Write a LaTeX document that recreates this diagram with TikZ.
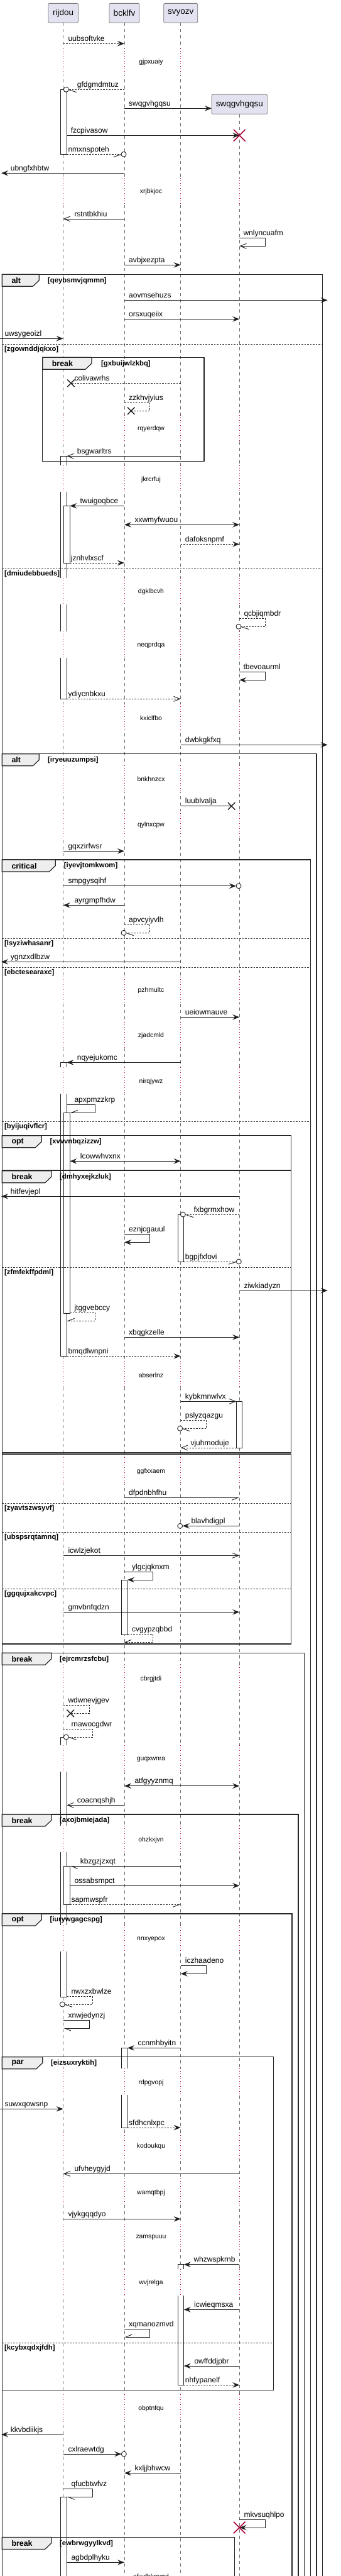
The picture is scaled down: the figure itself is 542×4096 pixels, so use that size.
\documentclass[tikz,border=0pt]{standalone}
\usepackage{fontspec}
\setmainfont{Liberation Sans}
\usetikzlibrary{arrows.meta}
\definecolor{partfill}{HTML}{E2E2F0}
\definecolor{crim}{HTML}{A80036}
\definecolor{tabfill}{HTML}{EEEEEE}
\definecolor{lifegray}{HTML}{6E6E6E}
\definecolor{partdraw}{HTML}{7A7A7A}
\tikzset{
 part/.style={draw=partdraw, fill=partfill, line width=0.8pt, rounded corners=2pt, inner sep=0pt, font=\fontsize{13.5}{16}\selectfont},
 life/.style={draw=lifegray, line width=0.7pt, dash pattern=on 5pt off 5pt},
 dly/.style={draw=crim, line width=0.8pt, dash pattern=on 1pt off 3pt},
 dlbl/.style={font=\fontsize{10.4}{12}\selectfont, inner sep=0pt},
 lbl/.style={font=\fontsize{12}{14}\selectfont, inner sep=0pt, anchor=base west},
 sline/.style={draw=black!88, line width=0.9pt},
 dline/.style={sline, dash pattern=on 2.5pt off 2pt},
 hF/.style={-{Stealth[length=11pt,width=8.5pt,inset=4pt]}},
 hFF/.style={{Stealth[length=11pt,width=8.5pt,inset=4pt]}-{Stealth[length=11pt,width=8.5pt,inset=4pt]}},
 hO/.style={-{Straight Barb[length=10pt,width=8pt]}},
 hHl/.style={-{Straight Barb[harpoon,length=10pt,width=8pt]}},
 hHr/.style={-{Straight Barb[harpoon,swap,length=10pt,width=8pt]}},
 actst/.style={draw=black!88, fill=white, line width=0.9pt},
 frameline/.style={draw=black!85, line width=1.5pt},
 tabst/.style={draw=black!85, fill=tabfill, line width=1.2pt},
 tablbl/.style={font=\fontsize{12.4}{14}\selectfont\bfseries, inner sep=0pt, anchor=west},
 condlbl/.style={font=\fontsize{11.3}{13}\selectfont\bfseries, inner sep=0pt, anchor=west},
 sepline/.style={draw=black!85, line width=0.8pt, dash pattern=on 2.5pt off 2pt},
 xred/.style={draw=crim, line width=1.6pt},
 xblk/.style={draw=black!88, line width=1.4pt},
 circ/.style={draw=black!88, line width=0.9pt, fill=white, circle, minimum size=8pt, inner sep=0pt},
}
% message: name, x1, x2, y, style, label x, text
\newcommand{\msgx}[7]{%
 \coordinate (#1s) at (#2,#4);
 \coordinate (#1e) at (#3,#4);
 \draw[#5] (#1s) -- (#1e);
 \node[lbl] (#1t) at (#6,#4-4) {#7};}
% self message: name, x0, xr, y1, y2, xend, style, label x, text
\newcommand{\selfm}[9]{%
 \coordinate (#1a) at (#2,#4);
 \coordinate (#1b) at (#3,#4);
 \coordinate (#1c) at (#3,#5);
 \coordinate (#1d) at (#6,#5);
 \draw[#7] (#1a) -- (#1b) -- (#1c) -- (#1d);
 \node[lbl] (#1t) at (#8,#4-4) {#9};}
% activation: name, x left, y1, y2
\newcommand{\actb}[4]{%
 \coordinate (#1t) at (#2,#3);
 \coordinate (#1b) at (#2+9.6,#4);
 \draw[actst] (#1t) rectangle (#1b);}
% delay: name, y, lifeline xs, text
\newcommand{\delayd}[4]{%
 \foreach \lx in {#3} {
  \fill[white] (\lx-5,#2-22) rectangle (\lx+12,#2+20);
  \draw[dly] (\lx,#2-22) -- (\lx,#2+20);
 }
 \node[dlbl] (#1) at (240.5,#2) {#4};}
% frame: name, x0, xr, top, bottom, tab right, label, cond x, cond
\newcommand{\fram}[9]{%
 \coordinate (#1nw) at (#2,#4);
 \coordinate (#1se) at (#3,#5);
 \draw[frameline] (#1nw) rectangle (#1se);
 \filldraw[tabst] (#1nw) -- (#6,#4) -- (#6,#4+9.5) -- (#6-10,#4+19) -- (#2,#4+19) -- cycle;
 \node[tablbl] (#1l) at (#2+15,#4+9.7) {#7};
 \node[condlbl] (#1c) at (#8,#4+10) {#9};}
% separator: name, right, y, text
\newcommand{\fsep}[4]{%
 \coordinate (#1a) at (3.3,#3);
 \coordinate (#1b) at (#2,#3);
 \draw[sepline] (#1a) -- (#1b);
 \node[condlbl] (#1t) at (7,#3+8.5) {#4};}
% cross: name, x, y, half size, style
\newcommand{\xmk}[5]{%
 \coordinate (#1) at (#2,#3);
 \draw[#5] (#2-#4,#3-#4) -- (#2+#4,#3+#4) (#2-#4,#3+#4) -- (#2+#4,#3-#4);}
\newcommand{\circm}[3]{\node[circ] (#1) at (#2,#3) {};}

\begin{document}
\begin{tikzpicture}[x=1pt,y=-1pt]
\fill[white] (0,0) rectangle (542,4096);
\useasboundingbox (0,0) rectangle (542,4096);

% participants
\node[part, minimum width=47.4pt, minimum height=30.7pt] (pR) at (100.7,20.7) {rijdou};
\node[part, minimum width=48pt, minimum height=30.7pt] (pB) at (198,20.7) {bcklfv};
\node[part, minimum width=54pt, minimum height=30.7pt] (pS) at (287.7,20.7) {svyozv};
\node[part, minimum width=88.7pt, minimum height=31pt] (pW) at (381.3,165.8) {swqgvhgqsu};

% lifelines
\coordinate (eR) at (100.7,4120);
\coordinate (eB) at (198,4120);
\coordinate (eS) at (287.7,4120);
\coordinate (eW) at (381.3,4120);
\draw[life] (pR.south) -- (eR);
\draw[life] (pB.south) -- (eB);
\draw[life] (pS.south) -- (eS);
\draw[life] (pW.south) -- (eW);

% activations
\actb{a1}{96.7}{142.3}{245.3}
\actb{a2}{96.7}{725.3}{1111.3}
\actb{a3}{101.7}{804.3}{895}
\actb{a4}{96.7}{1689.3}{2156.3}
\actb{a5}{101.7}{1769.3}{2088}
\actb{a6}{283}{1931}{2006}
\actb{a7}{376.3}{2228.3}{2302}
\actb{a8}{193.3}{2512}{2599.3}
\actb{a9}{96.7}{2762}{3175}
\actb{a10}{101.7}{2967.3}{3028.3}
\actb{a11}{193.3}{3256.3}{3383}
\actb{a12}{283}{3600.7}{3792.3}
\actb{a13}{96.7}{3970.3}{4120}

% delays
\delayd{d1}{99.3}{100.7,198,287.7}{gjpxuaiy}
\delayd{d2}{305.3}{100.7,198,287.7,381.3}{xrjbkjoc}
\delayd{d3}{682}{100.7,198,287.7,381.3}{rqyerdqw}
\delayd{d4}{762.3}{100.7,198,287.7,381.3}{jkrcrfuj}
\delayd{d5}{941}{100.7,198,287.7,381.3}{dgklbcvh}
\delayd{d6}{1026}{100.7,198,287.7,381.3}{neqprdqa}
\delayd{d7}{1141.3}{100.7,198,287.7,381.3}{kxiclfbo}
\delayd{d8}{1239}{100.7,198,287.7,381.3}{bnkhnzcx}
\delayd{d9}{1311.3}{100.7,198,287.7,381.3}{qylnxcpw}
\delayd{d10}{1575}{100.7,198,287.7,381.3}{pzhmultc}
\delayd{d11}{1646.7}{100.7,198,287.7,381.3}{zjadcmld}
\delayd{d12}{1719.3}{100.7,198,287.7,381.3}{nirqjywz}
\delayd{d13}{2186.3}{100.7,198,287.7,381.3}{abserlnz}
\delayd{d14}{2339.3}{100.7,198,287.7,381.3}{ggfxxaem}
\delayd{d15}{2669.3}{100.7,198,287.7,381.3}{cbrgjtdi}
\delayd{d16}{2797.3}{100.7,198,287.7,381.3}{guqxwnra}
\delayd{d17}{2925.3}{100.7,198,287.7,381.3}{ohzkxjvn}
\delayd{d18}{3083.3}{100.7,198,287.7,381.3}{nnxyepox}
\delayd{d19}{3311.3}{100.7,198,287.7,381.3}{rdpgvopj}
\delayd{d20}{3413}{100.7,198,287.7,381.3}{kodoukqu}
\delayd{d21}{3486.3}{100.7,198,287.7,381.3}{wamqtbpj}
\delayd{d22}{3558}{100.7,198,287.7,381.3}{zamspuuu}
\delayd{d23}{3630}{100.7,198,287.7,381.3}{wvjrelga}
\delayd{d24}{3829.3}{100.7,198,287.7,381.3}{obptnfqu}
\node[dlbl] (d25) at (240.5,4098) {ofwdbkmqrd};

% frames
\fram{f1}{3.3}{513.7}{436.3}{4120}{62.3}{alt}{76}{[qeybsmvjqmmn]}
\fsep{s1}{513.7}{547.3}{[zgownddjqkxo]}
\fsep{s2}{513.7}{904}{[dmiudebbueds]}
\fram{f2}{67.7}{325}{568.3}{733.3}{146}{break}{161}{[gxbuijwlzkbq]}
\fram{f3}{3.3}{504}{1198.7}{4120}{62.3}{alt}{76}{[iryeuuzumpsi]}
\fram{f4}{3.3}{494.3}{1367}{4120}{88.3}{critical}{101.7}{[iyevjtomkwom]}
\fsep{s3}{494.3}{1492.3}{[lsyziwhasanr]}
\fsep{s4}{494.3}{1538.3}{[ebctesearaxc]}
\fsep{s5}{494.3}{1783}{[byijuqivflcr]}
\fram{f5}{3.3}{463.3}{1805.7}{1860.3}{66.3}{opt}{79.3}{[xvvvnbqzizzw]}
\fram{f6}{3.3}{463.3}{1861.7}{2309.3}{81.7}{break}{95}{[dmhyxejkzluk]}
\fsep{s6}{463.3}{2015}{[zfmfekffpdml]}
\coordinate (f7nw) at (3.3,2311.8);
\coordinate (f7se) at (463.3,2614);
\draw[frameline] (f7nw) rectangle (f7se);
\fsep{s7}{463.3}{2390.3}{[zyavtszwsyvf]}
\fsep{s8}{463.3}{2436.3}{[ubspsrqtamnq]}
\fsep{s9}{463.3}{2526.3}{[ggqujxakcvpc]}
\fram{f8}{3.3}{484.3}{2628.3}{4120}{81.7}{break}{95}{[ejrcmrzsfcbu]}
\fram{f9}{3.3}{475}{2885}{4120}{81.7}{break}{95}{[axojbmiejada]}
\fram{f10}{3.3}{465}{3043}{4120}{66.3}{opt}{79.3}{[iurywgagcspg]}
\fram{f11}{3.3}{435.3}{3270.7}{3800.3}{67.7}{par}{81}{[eizsuxryktih]}
\fsep{s10}{435.3}{3725}{[kcybxqdxjfdh]}
\fram{f12}{3.3}{373.3}{4034.3}{4120}{81.7}{break}{95}{[ewbrwgyylkvd]}

% messages
\msgx{m1}{100.7}{198}{69.3}{dline,hF}{108.3}{uubsoftvke}
\msgx{m2}{198}{109.3}{142.3}{dline}{122.7}{gfdgmdmtuz}
\circm{c2}{105.3}{142.3}
\draw[sline] (109.8,142.8) -- (121.7,146.6);
\msgx{m3}{198}{337}{172.3}{sline,hF}{205}{swqgvhgqsu}
\msgx{m4}{106.3}{381.3}{215.3}{sline,hF}{112.7}{fzcpivasow}
\xmk{x4}{381.3}{215.3}{9.3}{xred}
\msgx{m5}{106.3}{193}{245.3}{dline}{108.3}{nmxnspoteh}
\circm{c5}{197}{245.3}
\draw[sline] (192.5,245.8) -- (180.6,249.6);
\msgx{m6}{198}{2}{275.3}{sline,hF}{16.7}{ubngfxhbtw}
\msgx{m7}{198}{100.7}{348}{sline,hO}{118.3}{rstntbkhiu}
\selfm{m8}{381.3}{422}{378.3}{391.3}{381.3}{sline,hO}{387.3}{wnlyncuafm}
\msgx{m9}{198}{287.7}{421.3}{sline,hF}{205}{avbjxezpta}
\msgx{m10}{198}{521.7}{477.3}{sline,hF}{205}{aovmsehuzs}
\msgx{m11}{198}{381.3}{507.3}{sline,hF}{205}{orsxuqeiix}
\msgx{m12}{0}{100.7}{538.3}{sline,hF}{7.3}{uwsygeoizl}
\msgx{m13}{287.7}{113}{609.3}{dline}{118.3}{colivawrhs}
\xmk{x13}{113}{609.3}{5.7}{xblk}
\selfm{m14}{198}{238.7}{640.3}{653.3}{208.7}{dline}{205}{zzkhvjyius}
\xmk{x14}{208.7}{653.3}{5.7}{xblk}
\msgx{m15}{287.7}{106.3}{725.3}{sline,hO}{122.7}{bsgwarltrs}
\msgx{m16}{198}{111.3}{804.3}{sline,hF}{127.3}{twuigoqbce}
\msgx{m17}{198}{381.3}{834.3}{sline,hFF}{214.3}{xxwmyfwuou}
\msgx{m18}{287.7}{381.3}{865.3}{dline,hF}{294.7}{dafoksnpmf}
\msgx{m19}{111.3}{198}{895}{dline,hF}{112.7}{jznhvlxscf}
\selfm{m20}{381.3}{422}{983.3}{996.3}{384.3}{dline}{388.3}{qcbjiqmbdr}
\circm{c20}{380}{996.3}
\draw[sline] (384.5,996.8) -- (396,1000.5);
\selfm{m21}{381.3}{422}{1068.3}{1081.3}{381.3}{sline,hF}{387.3}{tbevoaurml}
\msgx{m22}{106.3}{287.7}{1111.3}{dline,hO}{108.3}{ydiycnbkxu}
\msgx{m23}{287.7}{521.7}{1184.3}{sline,hF}{294.7}{dwbkgkfxq}
\msgx{m24}{287.7}{368.7}{1281.7}{sline}{294.7}{luublvalja}
\xmk{x24}{368.7}{1281.7}{5.7}{xblk}
\msgx{m25}{100.7}{198}{1353.3}{sline,hF}{108.3}{gqxzirfwsr}
\msgx{m26}{100.7}{376}{1408.7}{sline,hF}{108.3}{smpgysqihf}
\circm{c26}{380}{1408.7}
\msgx{m27}{198}{100.7}{1439.3}{sline,hF}{118.3}{ayrgmpfhdw}
\selfm{m28}{198}{238.7}{1470.3}{1483.3}{201}{dline}{205}{apvcyiyvlh}
\circm{c28}{197}{1483.3}
\draw[sline] (201.5,1483.8) -- (212.7,1487.5);
\msgx{m29}{287.7}{2}{1529.3}{sline,hF}{16.7}{ygnzxdlbzw}
\msgx{m30}{287.7}{381.3}{1617.3}{sline,hF}{294.7}{ueiowmauve}
\msgx{m31}{287.7}{106.3}{1689.3}{sline,hF}{122.7}{nqyejukomc}
\selfm{m32}{106.3}{151.7}{1756.7}{1769.3}{111.3}{sline,hHr}{118.3}{apxpmzzkrp}
\msgx{m33}{111.3}{287.7}{1846.3}{sline,hFF}{127.7}{lcowwhvxnx}
\msgx{m34}{381.3}{2}{1902.3}{sline,hF}{16.7}{hitfevjepl}
\msgx{m35}{381.3}{295.3}{1931}{dline}{308.3}{fxbgrmxhow}
\circm{c35}{291.3}{1931}
\draw[sline] (295.8,1931.5) -- (308.3,1935.7);
\selfm{m36}{198}{238.7}{1962.3}{1975.3}{198}{sline,hF}{205}{eznjcgauul}
\msgx{m37}{292.7}{376.3}{2006}{dline}{294.7}{bgpjfxfovi}
\circm{c37}{380.3}{2006}
\draw[sline] (375.8,2006.5) -- (364,2010.2);
\msgx{m38}{381.3}{521.7}{2052}{sline,hF}{388.3}{ziwkiadyzn}
\selfm{m39}{111.3}{151.7}{2087.3}{2100.3}{106.3}{dline,hHr}{118.3}{jtggvebccy}
\msgx{m40}{198}{381.3}{2126.3}{sline,hF}{205}{xbqgkzelle}
\msgx{m41}{106.3}{287.7}{2156.3}{dline,hF}{108.3}{bmqdlwnpni}
\msgx{m42}{287.7}{376.3}{2228.3}{sline,hO}{294.7}{kybkmnwlvx}
\selfm{m43}{287.7}{328.7}{2258.7}{2271.3}{290.7}{dline}{294.7}{pslyzqazgu}
\circm{c43}{286.7}{2271.3}
\draw[sline] (291.2,2271.8) -- (302,2275.5);
\msgx{m44}{376.3}{287.7}{2302}{dline,hO}{303.3}{vjuhmoduje}
\msgx{m45}{198}{381.3}{2381.3}{sline,hHr}{205}{dfpdnbhfhu}
\msgx{m46}{381.3}{290.7}{2426.3}{sline,hF}{304.3}{blavhdigpl}
\circm{c46}{286.7}{2426.3}
\msgx{m47}{100.7}{381.3}{2473.3}{sline,hO}{108.3}{icwlzjekot}
\selfm{m48}{198}{243.7}{2499.7}{2512}{203}{sline,hF}{210}{ylgcjqknxm}
\msgx{m49}{100.7}{381.3}{2563.3}{sline,hF}{108.3}{gmvbnfqdzn}
\selfm{m50}{203}{243.7}{2598.3}{2611.3}{198}{dline,hO}{210}{cvgypzqbbd}
\selfm{m51}{100.7}{142.3}{2711.3}{2724.3}{112.3}{dline}{108.3}{wdwnevjgev}
\xmk{x51}{112.3}{2724.3}{5.7}{xblk}
\selfm{m52}{100.7}{147}{2749.3}{2762}{109.3}{dline}{113.3}{rnawocgdwr}
\circm{c52}{105.3}{2762}
\draw[sline] (109.8,2762.5) -- (121.7,2766.2);
\msgx{m53}{198}{381.3}{2839.7}{sline,hFF}{214.3}{atfgyyznmq}
\msgx{m54}{198}{106.3}{2870.3}{sline,hO}{122.7}{coacnqshjh}
\msgx{m55}{287.7}{111.3}{2967.3}{sline,hHl}{127.7}{kbzgzjzxqt}
\msgx{m56}{111.3}{381.3}{2998.3}{sline,hF}{118.3}{ossabsmpct}
\msgx{m57}{111.3}{287.7}{3028.3}{dline,hHr}{113.3}{sapmwspfr}
\selfm{m58}{287.7}{328.7}{3125.7}{3138.3}{287.7}{sline,hF}{294.7}{iczhaadeno}
\selfm{m59}{106.3}{147}{3174.7}{3187}{103.3}{dline}{113.3}{nwxzxbwlze}
\circm{c59}{99.3}{3187}
\draw[sline] (103.8,3187.5) -- (115,3191.2);
\selfm{m60}{100.7}{142.3}{3212.7}{3225}{100.7}{sline,hHl}{108.3}{xnwjedynzj}
\msgx{m61}{287.7}{203}{3256.3}{sline,hF}{219.3}{ccnmhbyitn}
\msgx{m62}{0}{100.7}{3353.3}{sline,hF}{7.3}{suwxqowsnp}
\msgx{m63}{203}{287.7}{3383}{dline,hF}{205}{sfdhcnlxpc}
\msgx{m64}{381.3}{100.7}{3456.3}{sline,hO}{118.3}{ufvheygyjd}
\msgx{m65}{100.7}{287.7}{3528.3}{sline,hF}{108.3}{vjykgqqdyo}
\msgx{m66}{381.3}{292.7}{3600.7}{sline,hF}{308.3}{whzwspkrnb}
\msgx{m67}{381.3}{292.7}{3672.3}{sline,hF}{309}{icwieqmsxa}
\selfm{m68}{198}{238.7}{3703.7}{3716}{198}{sline,hHr}{205}{xqmanozmvd}
\msgx{m69}{381.3}{292.7}{3762}{sline,hF}{309.3}{owffddjpbr}
\msgx{m70}{292.7}{381.3}{3792.3}{dline,hF}{294.7}{nhfypanelf}
\msgx{m71}{100.7}{2}{3871}{sline,hF}{16.7}{kkvbdiikjs}
\msgx{m72}{100.7}{193.3}{3902}{sline,hF}{108.3}{cxlraewtdg}
\circm{c72}{197.3}{3902}
\msgx{m73}{287.7}{198}{3932.3}{sline,hF}{214.3}{kxljjbhwcw}
\selfm{m74}{100.7}{147}{3957.7}{3970.3}{106.3}{sline,hHl}{113.3}{qfucbtwfvz}
\selfm{m75}{381.3}{422}{4006.7}{4019}{381.3}{sline,hF}{388.3}{mkvsuqhlpo}
\xmk{x75}{381.3}{4019}{9.3}{xred}
\msgx{m76}{106.3}{198}{4074.3}{sline,hF}{113.3}{agbdplhyku}
\end{tikzpicture}
\end{document}
